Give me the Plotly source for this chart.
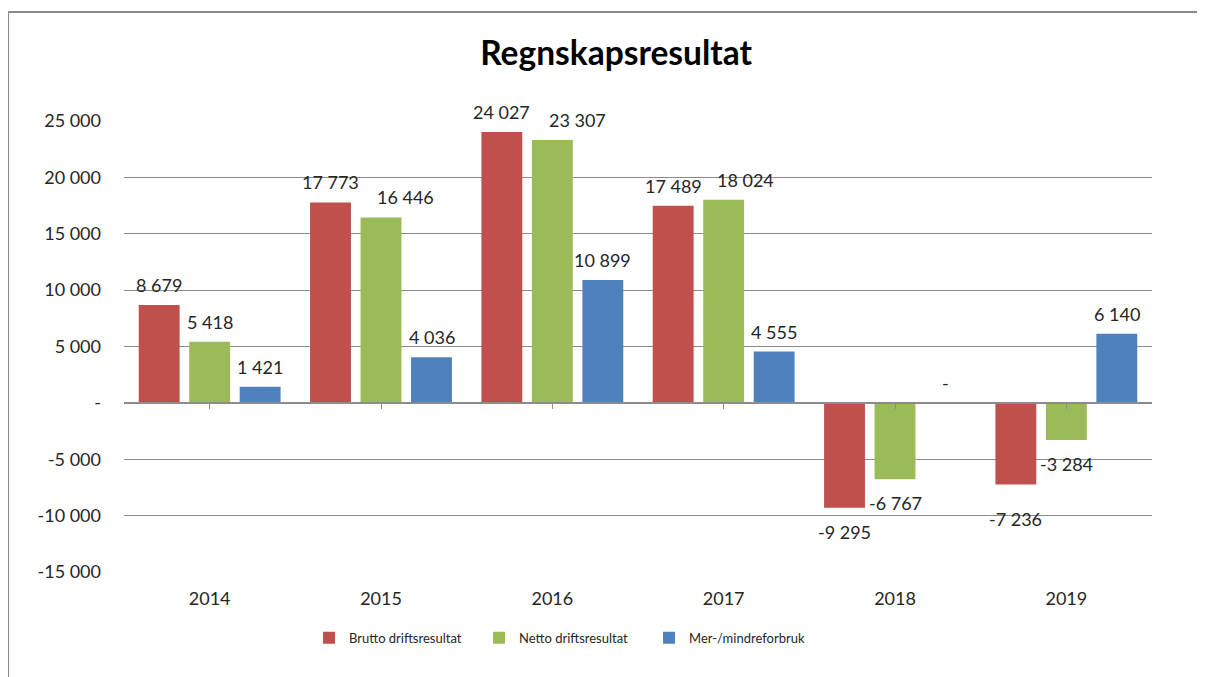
import plotly.graph_objects as go

# data
years = ["2014", "2015", "2016", "2017", "2018", "2019"]
brutto = [8679, 17773, 24027, 17489, -9295, -7236]
netto = [5418, 16446, 23307, 18024, -6767, -3284]
mer_mindre = [1421, 4036, 10899, 4555, 0, 6140]

series_names = ["Brutto driftsresultat", "Netto driftsresultat", "Mer-/mindreforbruk"]
series_values = [brutto, netto, mer_mindre]
series_colors = ["#C0504D", "#9BBB59", "#4F81BD"]

y_ticks = [25000, 20000, 15000, 10000, 5000, 0, -5000, -10000, -15000]
y_tick_labels = ["25 000", "20 000", "15 000", "10 000", "5 000", "-",
                 "-5 000", "-10 000", "-15 000"]

FONT = "Lato"
TEXT = "#262626"
GRID = "#8c8c8c"


def fmt(v):
    """Norwegian style number: space as thousands separator, dash for zero"""
    if v == 0:
        return "-"
    return f"{v:,}".replace(",", " ")


fig = go.Figure()

for name, vals, color in zip(series_names, series_values, series_colors):
    fig.add_trace(go.Bar(
        x=years, y=vals, name=name,
        marker=dict(color=color, line=dict(width=0)),
        hoverinfo="skip",
    ))

# invisible helper trace so the zero-line axis with ticks gets drawn
fig.add_trace(go.Scatter(x=years, y=[None] * len(years), xaxis="x2",
                         mode="lines", showlegend=False, hoverinfo="skip"))

# data labels (Excel style, a few moved by hand in the original)
# x given as category index, since "2014" etc. would be read as numbers
slot_shift = [-50.5, 0, 50.5]
nudge = {(1, 1): (24, 0), (1, 2): (25, 0), (1, 3): (22, 0), (0, 5): (0, -11)}
for s, vals in enumerate(series_values):
    for i, v in enumerate(vals):
        dx, dy = nudge.get((s, i), (0, 0))
        fig.add_annotation(
            x=i, y=v, xref="x", yref="y",
            text=fmt(v), showarrow=False,
            xshift=slot_shift[s] + dx,
            yshift=(20 if v >= 0 else -24) + dy,
            font=dict(family=FONT, size=18, color=TEXT),
        )

# chart frame (cut off at right and bottom in the screenshot)
frame = dict(color="#8a8a8a", width=2)
fig.add_shape(type="line", xref="paper", yref="paper",
              x0=-0.1128, x1=1.2, y0=1.2417, y1=1.2417, line=frame)
fig.add_shape(type="line", xref="paper", yref="paper",
              x0=-0.1128, x1=-0.1128, y0=1.2417, y1=-0.4, line=frame)

cat_range = [-0.5, len(years) - 0.5]

fig.update_layout(
    width=1197, height=669,
    margin=dict(l=116, r=53, t=113, b=105),
    paper_bgcolor="white", plot_bgcolor="white",
    barmode="group", bargap=0.116, bargroupgap=0.19,
    title=dict(text="<b>Regnskapsresultat</b>", x=0.508, y=0.9327,
               xanchor="center", yanchor="middle",
               font=dict(family=FONT, size=33.5, color="black")),
    font=dict(family=FONT, color=TEXT),
    showlegend=True,
    legend=dict(orientation="h", x=0.18, y=-0.146, xanchor="left", yanchor="middle",
                font=dict(family=FONT, size=13, color=TEXT),
                entrywidth=125, entrywidthmode="pixels", itemclick=False),
    xaxis=dict(type="category", categoryorder="array", categoryarray=years,
               range=cat_range, showgrid=False, showline=False, ticks="",
               tickfont=dict(family=FONT, size=18, color=TEXT),
               ticklabelstandoff=14, zeroline=False),
    xaxis2=dict(type="category", categoryorder="array", categoryarray=years,
                range=cat_range, overlaying="x", anchor="free",
                position=0.375, showline=True, linecolor=GRID, linewidth=1.5,
                ticks="outside", ticklen=5, tickcolor=GRID,
                showticklabels=False, showgrid=False, zeroline=False),
    yaxis=dict(range=[-15000, 25000], tickvals=y_ticks, ticktext=y_tick_labels,
               showgrid=True, gridcolor=GRID, gridwidth=1,
               zeroline=False, showline=False, ticks="",
               tickfont=dict(family=FONT, size=18, color=TEXT),
               ticklabelstandoff=22),
)

fig.write_html("out.html")
